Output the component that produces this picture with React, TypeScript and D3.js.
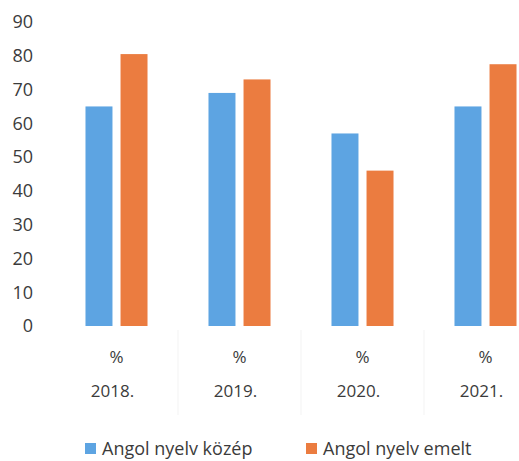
import React from 'react';
import * as d3 from 'd3';

const years = ['2018.', '2019.', '2020.', '2021.'];
const seriesNames = ['Angol nyelv közép', 'Angol nyelv emelt'];
const kozep = [65, 69, 57, 65];
const emelt = [80.5, 73, 46, 77.5];
const yTicks = [0, 10, 20, 30, 40, 50, 60, 70, 80, 90];
const colors = ['#5DA4E2', '#EB7C40'];

const App = () => {
  const width = 519;
  const height = 461;
  const font = "'Open Sans', sans-serif";
  const textColor = '#3b3b3b';

  // plot area runs past the right edge, like the cropped original
  const x = d3.scaleBand().domain(years).range([55, 547]).paddingInner(0).paddingOuter(0);
  const inner = d3.scaleBand().domain(seriesNames).range([0, x.bandwidth()]).paddingInner(0.23).paddingOuter(0.87);
  const y = d3.scaleLinear().domain([0, 90]).range([326, 22]);

  const values = [kozep, emelt];

  return (
    <svg width={width} height={height} style={{ position: 'absolute', left: 0, top: 0, background: '#fff' }}>
      {/* faint category dividers */}
      {years.slice(1).map((yr) => (
        <line key={yr} x1={x(yr)} x2={x(yr)} y1={330} y2={415} stroke="#f3f3f3" strokeWidth={1} />
      ))}

      {/* y axis labels */}
      {yTicks.map((t) => (
        <text key={t} x={33} y={y(t)} dy="0.35em" textAnchor="end" fontFamily={font} fontSize={18} fill={textColor}>
          {t}
        </text>
      ))}

      {/* bars */}
      {seriesNames.map((s, si) =>
        years.map((yr, i) => (
          <rect
            key={s + yr}
            x={(x(yr) as number) + (inner(s) as number)}
            y={y(values[si][i])}
            width={inner.bandwidth()}
            height={y(0) - y(values[si][i])}
            fill={colors[si]}
          />
        ))
      )}

      {/* category labels */}
      {years.map((yr) => (
        <g key={yr}>
          <text x={(x(yr) as number) + x.bandwidth() / 2} y={357} dy="0.35em" textAnchor="middle" fontFamily={font} fontSize={17} fill={textColor}>
            %
          </text>
          <text x={(x(yr) as number) + x.bandwidth() / 2 - 4} y={391} dy="0.35em" textAnchor="middle" fontFamily={font} fontSize={17} fill={textColor}>
            {yr}
          </text>
        </g>
      ))}

      {/* legend */}
      <rect x={85} y={443} width={11} height={11} fill={colors[0]} />
      <text x={102} y={455} fontFamily={font} fontSize={18} fill={textColor}>{seriesNames[0]}</text>
      <rect x={306} y={443} width={11} height={11} fill={colors[1]} />
      <text x={323} y={455} fontFamily={font} fontSize={18} fill={textColor}>{seriesNames[1]}</text>
    </svg>
  );
};

export default App;
